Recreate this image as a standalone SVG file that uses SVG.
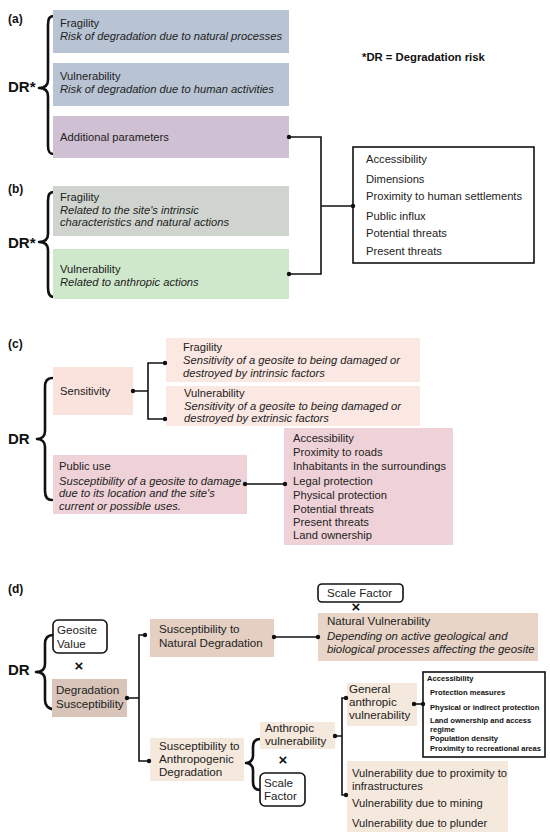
<svg xmlns="http://www.w3.org/2000/svg" width="550" height="837" viewBox="0 0 550 837">
<style>
text{font-family:"Liberation Sans",Arial,sans-serif;fill:#222;font-size:11.2px}
.b{font-weight:bold}
.i{font-style:italic}
.lbl{font-weight:bold;font-size:12px;fill:#111}
.dr{font-weight:bold;font-size:15px;fill:#111}
.d{font-size:11.6px}
.di{font-size:11.4px;font-style:italic}
.sm{font-size:7.6px;font-weight:bold;fill:#111}
.x{font-weight:bold;font-size:15px;text-anchor:middle;fill:#111}
.brace{fill:none;stroke:#111;stroke-width:2.6;stroke-linecap:round;stroke-linejoin:round}
.ln{fill:none;stroke:#111;stroke-width:1.6}
.dot{fill:#111}
.box{fill:#fff;stroke:#111;stroke-width:1.6}
</style>
<rect width="550" height="837" fill="#fff"/>

<!-- Section a -->
<g id="section-a">
<text class="lbl" x="8" y="23">(a)</text>
<text class="dr" x="8" y="92">DR*</text>
<path class="brace" d="M54,16 C49,16 48,19 48,25 L48,80 C48,85 45,88 39,88 C45,88 48,91 48,96 L48,146 C48,151 49,154 54,154"/>
<text class="b" x="362" y="61" style="font-size:11.3px;fill:#111">*DR = Degradation risk</text>
</g>
<g id="a-fragility">
<rect x="53" y="10" width="236" height="43" fill="#b8c4d4"/>
<text x="60" y="27">Fragility</text>
<text class="i" x="60" y="40">Risk of degradation due to natural processes</text>
</g>
<g id="a-vulnerability">
<rect x="53" y="63" width="236" height="43" fill="#b8c4d4"/>
<text x="60" y="80">Vulnerability</text>
<text class="i" x="60" y="93">Risk of degradation due to human activities</text>
</g>
<g id="a-additional">
<rect x="53" y="116" width="236" height="42" fill="#cfc0d3"/>
<text x="60" y="140.5">Additional parameters</text>
</g>

<!-- Section b -->
<g id="section-b">
<text class="lbl" x="8" y="193">(b)</text>
<text class="dr" x="8" y="248">DR*</text>
<path class="brace" d="M54,192 C49,192 48,195 48,201 L48,234 C48,239 45,242 39,242 C45,242 48,245 48,250 L48,288 C48,293 49,297 54,297"/>
</g>
<g id="b-fragility">
<rect x="53" y="186" width="236" height="50" fill="#cfd5ce"/>
<text x="60" y="201">Fragility</text>
<text class="i" x="60" y="213.5">Related to the site's intrinsic</text>
<text class="i" x="60" y="226">characteristics and natural actions</text>
</g>
<g id="b-vulnerability">
<rect x="53" y="249" width="236" height="50" fill="#cfe8cb"/>
<text x="60" y="273">Vulnerability</text>
<text class="i" x="60" y="286">Related to anthropic actions</text>
</g>
<g id="ab-list">
<rect class="box" x="353" y="147" width="181" height="116"/>
<text x="366" y="163">Accessibility</text>
<text x="366" y="183">Dimensions</text>
<text x="366" y="200">Proximity to human settlements</text>
<text x="366" y="220">Public influx</text>
<text x="366" y="237">Potential threats</text>
<text x="366" y="255">Present threats</text>
</g>

<!-- Section c -->
<g id="section-c">
<text class="lbl" x="8" y="348">(c)</text>
<text class="dr" x="8" y="444">DR</text>
<path class="brace" d="M52,378 C47,378 45,381 45,387 L45,431 C45,436 42,439 37,439 C42,439 45,442 45,447 L45,491 C45,496 47,500 52,500"/>
</g>
<g id="c-sensitivity">
<rect x="53" y="367" width="80" height="48" fill="#fae3dd"/>
<text x="60" y="395">Sensitivity</text>
</g>
<g id="c-fragility">
<rect x="166" y="338" width="254" height="44" fill="#fbe8e2"/>
<text x="183" y="350.5">Fragility</text>
<text class="i" x="183" y="364">Sensitivity of a geosite to being damaged or</text>
<text class="i" x="183" y="377">destroyed by intrinsic factors</text>
</g>
<g id="c-vulnerability">
<rect x="166" y="386" width="254" height="40" fill="#fbe8e2"/>
<text x="184" y="397">Vulnerability</text>
<text class="i" x="184" y="409.5">Sensitivity of a geosite to being damaged or</text>
<text class="i" x="184" y="422">destroyed by extrinsic factors</text>
</g>
<g id="c-publicuse">
<rect x="53" y="455" width="194" height="59" fill="#efd2d8"/>
<text x="59" y="470">Public use</text>
<text class="i" x="59" y="484.5">Susceptibility of a geosite to damage</text>
<text class="i" x="59" y="497">due to its location and the site's</text>
<text class="i" x="59" y="509.5">current or possible uses.</text>
</g>
<g id="c-list">
<rect x="284" y="428" width="169" height="117" fill="#efd2d8"/>
<text x="293" y="442">Accessibility</text>
<text x="293" y="456">Proximity to roads</text>
<text x="293" y="470">Inhabitants in the surroundings</text>
<text x="293" y="485">Legal protection</text>
<text x="293" y="499">Physical protection</text>
<text x="293" y="513">Potential threats</text>
<text x="293" y="526">Present threats</text>
<text x="293" y="539">Land ownership</text>
</g>

<!-- Section d -->
<g id="section-d">
<text class="lbl" x="8" y="593">(d)</text>
<text class="dr" x="8" y="675">DR</text>
<path class="brace" d="M53,635 C48,635 45,638 45,644 L45,664 C45,669 42,672 36,672 C42,672 45,675 45,680 L45,700 C45,705 48,709 53,709"/>
<path class="brace" d="M260,739 C255,739 253,742 253,747 L253,756 C253,760 250,763 246,763 C250,763 253,766 253,770 L253,782 C253,787 255,790 260,790"/>
<text class="x" x="79" y="671">×</text>
<text class="x" x="356" y="612">×</text>
<text class="x" x="283" y="765">×</text>
</g>
<g id="d-geosite-value">
<rect class="box" x="53" y="620" width="54" height="33" rx="5"/>
<text class="d" x="57" y="634">Geosite</text>
<text class="d" x="57" y="647.5">Value</text>
</g>
<g id="d-degradation-susceptibility">
<rect x="52" y="679" width="75" height="38" fill="#d8c4b8"/>
<text class="d" x="56" y="694">Degradation</text>
<text class="d" x="56" y="707.5">Susceptibility</text>
</g>
<g id="d-natural-degradation">
<rect x="150" y="619" width="124" height="38" fill="#e4cfc2"/>
<text class="d" x="159" y="633">Susceptibility to</text>
<text class="d" x="159" y="646.5">Natural Degradation</text>
</g>
<g id="d-scale-factor-1">
<rect class="box" x="318" y="584" width="85" height="18" rx="4"/>
<text class="d" x="327" y="597">Scale Factor</text>
</g>
<g id="d-natural-vulnerability">
<rect x="318" y="613" width="220" height="48" fill="#e8d5c8"/>
<text class="d" x="327" y="625">Natural Vulnerability</text>
<text class="di" x="327" y="639.5">Depending on active geological and</text>
<text class="di" x="327" y="652.5">biological processes affecting the geosite</text>
</g>
<g id="d-anthropogenic-degradation">
<rect x="150" y="738" width="94" height="43" fill="#f5e8dc"/>
<text class="d" x="159" y="750">Susceptibility to</text>
<text class="d" x="159" y="763">Anthropogenic</text>
<text class="d" x="159" y="776">Degradation</text>
</g>
<g id="d-anthropic-vulnerability">
<rect x="260" y="722" width="75" height="27" fill="#f5e8dc"/>
<text class="d" x="265" y="732">Anthropic</text>
<text class="d" x="265" y="745">vulnerability</text>
</g>
<g id="d-scale-factor-2">
<rect class="box" x="260" y="773" width="45" height="33" rx="5"/>
<text class="d" x="264" y="786.5">Scale</text>
<text class="d" x="264" y="800">Factor</text>
</g>
<g id="d-general-anthropic">
<rect x="347" y="683" width="70" height="43" fill="#f5e8dc"/>
<text class="d" x="349" y="693">General</text>
<text class="d" x="349" y="706">anthropic</text>
<text class="d" x="349" y="719">vulnerability</text>
</g>
<g id="d-general-list">
<rect class="box" x="423" y="672" width="122" height="85"/>
<text class="sm" x="427" y="681">Accessibility</text>
<text class="sm" x="430" y="695">Protection measures</text>
<text class="sm" x="430" y="710">Physical or indirect protection</text>
<text class="sm" x="430" y="722.5">Land ownership and access</text>
<text class="sm" x="430" y="731.5">regime</text>
<text class="sm" x="430" y="741">Population density</text>
<text class="sm" x="430" y="751">Proximity to recreational areas</text>
</g>
<g id="d-vulnerability-due">
<rect x="347" y="761" width="161" height="71" fill="#f5e8dc"/>
<text class="d" x="352" y="776.5" style="font-size:11.2px">Vulnerability due to proximity to</text>
<text class="d" x="352" y="789.5" style="font-size:11.2px">infrastructures</text>
<text class="d" x="352" y="807" style="font-size:11.2px">Vulnerability due to mining</text>
<text class="d" x="352" y="827" style="font-size:11.2px">Vulnerability due to plunder</text>
</g>

<!-- Connectors -->
<g id="connectors">
<path class="ln" d="M289,137 H321 V274 H289 M321,206 H353"/>
<circle class="dot" cx="289" cy="137" r="2.2"/>
<circle class="dot" cx="289" cy="274" r="2.2"/>
<circle class="dot" cx="353" cy="206" r="2.2"/>

<path class="ln" d="M133,391 H148 M165,363 H148 V419 H165"/>
<circle class="dot" cx="133" cy="391" r="2.2"/>
<circle class="dot" cx="165" cy="363" r="2.2"/>
<circle class="dot" cx="165" cy="419" r="2.2"/>

<path class="ln" d="M245,484 H285"/>
<circle class="dot" cx="245" cy="484" r="2.2"/>
<circle class="dot" cx="285" cy="484" r="2.2"/>

<path class="ln" d="M127,698 H139 M145,635 H139 V761 H149"/>
<circle class="dot" cx="127" cy="698" r="2.2"/>
<circle class="dot" cx="145" cy="635" r="2.2"/>
<circle class="dot" cx="149" cy="761" r="2.2"/>

<path class="ln" d="M274,637 H318"/>
<circle class="dot" cx="274" cy="637" r="2.2"/>
<circle class="dot" cx="318" cy="637" r="2.2"/>

<path class="ln" d="M335,736 H342 M346,698 H342 V795 H346"/>
<circle class="dot" cx="335" cy="736" r="2.2"/>
<circle class="dot" cx="346" cy="698" r="2.2"/>
<circle class="dot" cx="346" cy="795" r="2.2"/>

<path class="ln" d="M414,704 H423"/>
<circle class="dot" cx="414" cy="704" r="2.2"/>
<circle class="dot" cx="423" cy="704" r="2.2"/>
</g>
</svg>
